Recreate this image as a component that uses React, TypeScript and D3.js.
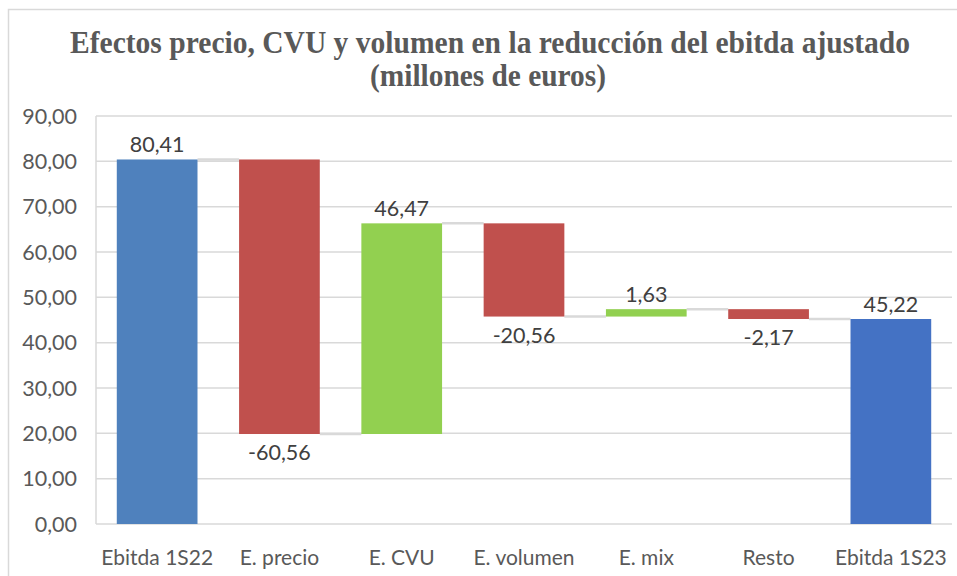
import React, { useEffect, useRef } from "react";
import * as d3 from "d3";

const categories = ["Ebitda 1S22", "E. precio", "E. CVU", "E. volumen", "E. mix", "Resto", "Ebitda 1S23"];
const values = [80.41, -60.56, 46.47, -20.56, 1.63, -2.17, 45.22];
const isTotal = [true, false, false, false, false, false, true];
const yTicks = [0, 10, 20, 30, 40, 50, 60, 70, 80, 90];

const W = 957, H = 576;
const fmt = (v: number) => v.toFixed(2).replace(".", ",");

export default function App() {
    const ref = useRef<SVGSVGElement>(null);

    useEffect(() => {
        const svg = d3.select(ref.current);
        svg.selectAll("*").remove();

        const left = 96, right = 952, top = 116, bottom = 524;

        // chart border
        svg.append("rect").attr("x", 8.5).attr("y", 9.5).attr("width", W + 20).attr("height", H + 20)
            .attr("fill", "#fff").attr("stroke", "#d9d9d9").attr("stroke-width", 1.5);

        // title
        const title = svg.append("g").attr("fill", "#595959").style("font-family", "'Liberation Serif', 'Times New Roman', serif")
            .style("font-weight", "bold").style("font-size", "32px").attr("text-anchor", "middle");
        title.append("text").attr("x", 490).attr("y", 53).attr("textLength", 840).attr("lengthAdjust", "spacingAndGlyphs")
            .text("Efectos precio, CVU y volumen en la reducción del ebitda ajustado");
        title.append("text").attr("x", 488).attr("y", 86).attr("textLength", 236).attr("lengthAdjust", "spacingAndGlyphs")
            .text("(millones de euros)");

        const x = d3.scaleBand().domain(categories).range([left, right]).paddingInner(0.34).paddingOuter(0.17);
        const y = d3.scaleLinear().domain([0, 90]).range([bottom, top]);

        // gridlines
        svg.append("g").selectAll("line").data(yTicks).join("line")
            .attr("x1", left).attr("x2", right).attr("y1", d => y(d)).attr("y2", d => y(d))
            .attr("stroke", "#d9d9d9").attr("stroke-width", 1.5);
        svg.append("line").attr("x1", left).attr("x2", left).attr("y1", top).attr("y2", bottom)
            .attr("stroke", "#d9d9d9").attr("stroke-width", 1.5);

        const font = "Lato, 'Open Sans', sans-serif";

        // y tick labels
        svg.append("g").selectAll("text").data(yTicks).join("text")
            .attr("x", 77).attr("y", d => y(d)).attr("dy", "0.35em").attr("text-anchor", "end")
            .attr("fill", "#595959").style("font-family", font).style("font-size", "21.5px")
            .text(d => fmt(d));

        // waterfall
        let run = 0;
        const bars = values.map((v, i) => {
            let start: number, end: number;
            if (isTotal[i]) { start = 0; end = v; run = v; }
            else { start = run; end = run + v; run = end; }
            return { cat: categories[i], v, start, end, total: isTotal[i] };
        });

        const color = (b: any, i: number) => b.total ? (i === 0 ? "#4F81BD" : "#4472C4") : (b.v >= 0 ? "#92D050" : "#C0504D");

        // connectors
        svg.append("g").selectAll("line").data(bars.slice(0, -1)).join("line")
            .attr("x1", (d: any) => (x(d.cat) as number) + x.bandwidth())
            .attr("x2", (d: any, i: number) => x(categories[i + 1]) as number)
            .attr("y1", (d: any) => y(d.end)).attr("y2", (d: any) => y(d.end))
            .attr("stroke", "#d9d9d9").attr("stroke-width", 2.5);

        svg.append("g").selectAll("rect").data(bars).join("rect")
            .attr("x", d => x(d.cat) as number)
            .attr("width", x.bandwidth())
            .attr("y", d => y(Math.max(d.start, d.end)))
            .attr("height", d => Math.abs(y(d.start) - y(d.end)))
            .attr("fill", (d, i) => color(d, i));

        // value labels
        svg.append("g").selectAll("text").data(bars).join("text")
            .attr("x", d => (x(d.cat) as number) + x.bandwidth() / 2)
            .attr("y", d => d.v >= 0 ? y(Math.max(d.start, d.end)) - 7 : y(Math.min(d.start, d.end)) + 26)
            .attr("text-anchor", "middle").attr("fill", "#404040")
            .style("font-family", font).style("font-size", "21.5px")
            .text(d => fmt(d.v));

        // category labels
        svg.append("g").selectAll("text").data(categories).join("text")
            .attr("x", d => (x(d) as number) + x.bandwidth() / 2).attr("y", 565)
            .attr("text-anchor", "middle").attr("fill", "#595959")
            .style("font-family", font).style("font-size", "21px")
            .text(d => d);
    }, []);

    return (
        <svg ref={ref} width={W} height={H} style={{ position: "absolute", left: 0, top: 0, background: "#fff" }}></svg>
    );
}
